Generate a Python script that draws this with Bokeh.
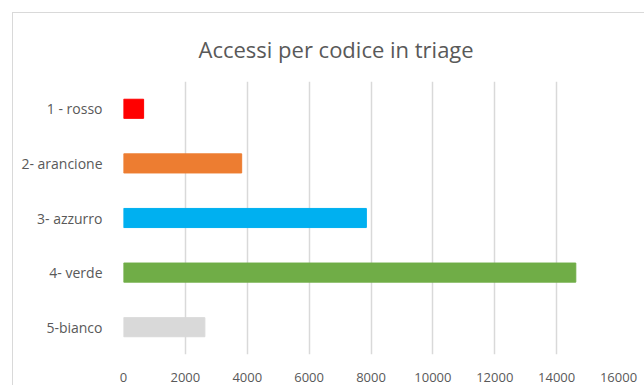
from bokeh.plotting import figure
from bokeh.models import ColumnDataSource, FixedTicker, Range1d, InlineStyleSheet
from bokeh.embed import file_html
from bokeh.resources import INLINE

categories = ["1 - rosso", "2- arancione", "3- azzurro", "4- verde", "5-bianco"]
values = [650, 3820, 7850, 14620, 2630]
colors = ["#FF0000", "#ED7D31", "#00B0F0", "#70AD47", "#D9D9D9"]
x_ticks = [0, 2000, 4000, 6000, 8000, 10000, 12000, 14000, 16000]

src = ColumnDataSource(dict(cat=categories, val=values, color=colors))

p = figure(width=632, height=373, y_range=list(reversed(categories)),
           x_range=Range1d(0, 16000), output_backend="svg", toolbar_location=None,
           min_border_left=110, min_border_right=27, min_border_top=68, min_border_bottom=32)
p.margin = (12, 0, 0, 12)
p.stylesheets = [InlineStyleSheet(css=":host { border-top: 1px solid #D9D9D9; border-left: 1px solid #D9D9D9; }")]

p.hbar(y="cat", right="val", left=0, height=0.35, color="color", source=src)

p.title.text = "Accessi per codice in triage"
p.title.align = "left"
p.title.text_font = "Open Sans"
p.title.text_font_size = "22px"
p.title.text_font_style = "normal"
p.title.text_color = "#595959"
p.title.offset = 75
p.title.standoff = 36

p.outline_line_color = None
p.background_fill_color = "white"
p.border_fill_color = "white"

p.xaxis.ticker = FixedTicker(ticks=x_ticks)
p.xaxis.axis_line_color = None
p.xaxis.major_tick_line_color = None
p.xaxis.minor_tick_line_color = None
p.xaxis.major_label_standoff = 12
p.xaxis.major_label_text_font = "Open Sans"
p.xaxis.major_label_text_font_size = "13px"
p.xaxis.major_label_text_color = "#595959"

p.yaxis.axis_line_color = None
p.yaxis.major_tick_line_color = None
p.yaxis.minor_tick_line_color = None
p.yaxis.major_label_standoff = 15
p.yaxis.major_label_text_font = "Open Sans"
p.yaxis.major_label_text_font_size = "14px"
p.yaxis.major_label_text_color = "#595959"

p.xgrid.grid_line_color = "#D9D9D9"
p.xgrid.grid_line_width = 1.5
p.ygrid.grid_line_color = None

open("out.html", "w").write(file_html(p, INLINE))
